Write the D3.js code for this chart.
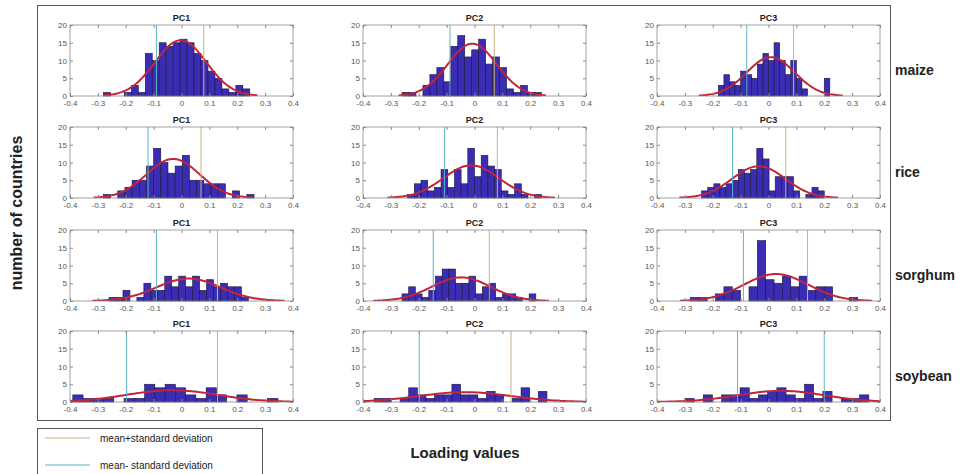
<!DOCTYPE html>
<html>
<head>
<meta charset="utf-8">
<script src="https://cdn.jsdelivr.net/npm/d3@7"></script>
<style>
body { margin: 0; background: #fff; }
text { font-family: "Liberation Sans", Arial, sans-serif; }
</style>
</head>
<body>
<svg id="chart" width="979" height="474"></svg>
<script>
// crops are rows, principal components are columns
const crops = ["maize", "rice", "sorghum", "soybean"];
const pcs = ["PC1", "PC2", "PC3"];
const xTicks = [-0.4, -0.3, -0.2, -0.1, 0, 0.1, 0.2, 0.3, 0.4];
const yTicks = [0, 5, 10, 15, 20];

// histogram counts per crop, one array per PC
const countsMaize = [
    [1,0,0,1,3,1,12,10,15,14,15,16,15,12,10,7,5,2,1,3,2],
    [1,1,0,3,6,8,4,14,17,11,13,16,9,11,8,2,1,3,1,1],
    [3,6,4,3,7,6,5,9,12,10,15,10,6,10,5,2,0,0,0,5]
];
const countsRice = [
    [1,0,2,3,5,5,9,14,10,7,9,12,5,5,4,4,4,0,2,0,1],
    [1,4,5,2,3,8,3,8,4,14,6,12,9,8,2,1,4,1,0,1],
    [2,3,4,3,4,5,8,7,8,14,11,2,6,6,6,2,0,1,3,2]
];
const countsSorghum = [
    [1,1,3,0,1,5,3,3,7,4,7,4,7,3,6,4,5,4,4,1],
    [2,4,2,1,3,7,9,9,5,5,7,2,4,5,1,2,2,1,0,2],
    [1,1,0,2,4,3,0,4,17,6,5,7,4,7,3,4,4,0,0,1]
];
const countsSoybean = [
    [2,1,1,1,0,1,1,5,4,5,4,2,1,4,2,0,2,0,0,1],
    [1,1,0,1,4,2,1,2,2,5,2,2,1,3,2,0,1,4,0,3],
    [1,0,2,0,2,2,4,1,2,3,4,2,1,5,1,3,0,1,1,2]
];
const counts = [countsMaize, countsRice, countsSorghum, countsSoybean];

// first and last bin edge of each histogram
const binStart = [
    [-0.28, -0.26, -0.18],
    [-0.28, -0.24, -0.24],
    [-0.26, -0.26, -0.28],
    [-0.39, -0.36, -0.30]
];
const binEnd = [
    [0.245, 0.24, 0.22],
    [0.26, 0.24, 0.20],
    [0.24, 0.22, 0.32],
    [0.346, 0.26, 0.36]
];

// fitted normal distribution
const fitMean = [
    [-0.003, -0.008, 0.008],
    [-0.03, -0.012, -0.035],
    [0.025, -0.048, 0.027],
    [-0.034, -0.034, 0.045]
];
const fitSd = [
    [0.092, 0.088, 0.086],
    [0.095, 0.1, 0.095],
    [0.115, 0.105, 0.115],
    [0.163, 0.165, 0.155]
];

// mean - sd and mean + sd
const sdLow = [
    [-0.09, -0.088, -0.078],
    [-0.12, -0.108, -0.129],
    [-0.09, -0.148, -0.09],
    [-0.197, -0.198, -0.111]
];
const sdHigh = [
    [0.08, 0.071, 0.09],
    [0.07, 0.082, 0.062],
    [0.129, 0.053, 0.14],
    [0.129, 0.131, 0.2]
];

const tealColor = "#5fb4c9";
const tanColor = "#cbb083";
const barColor = "#3a2db4";
const curveColor = "#c0263a";
const axisColor = "#8a8a8a";

const svg = d3.select("#chart");

// outer frame
svg.append("rect")
    .attr("x", 37.5).attr("y", 5.5)
    .attr("width", 853).attr("height", 415)
    .attr("fill", "none").attr("stroke", "#555").attr("stroke-width", 1);

const colLeft = [70, 363, 657];
const rowTop = [25, 127, 230, 331];
const pw = 223, ph = 71;

const x = d3.scaleLinear().domain([-0.4, 0.4]).range([0, pw]);
const y = d3.scaleLinear().domain([0, 20]).range([ph, 0]);
const fmt = d => d === 0 ? "0" : d.toFixed(1);

svg.append("defs").append("clipPath").attr("id", "plotclip")
    .append("rect").attr("width", pw).attr("height", ph);

crops.forEach((crop, r) => {
    pcs.forEach((pc, c) => {
        const g = svg.append("g")
            .attr("transform", `translate(${colLeft[c]},${rowTop[r]})`);

        g.append("rect").attr("width", pw).attr("height", ph).attr("fill", "#fff");

        const data = counts[r][c];
        const bw = (binEnd[r][c] - binStart[r][c]) / data.length;
        const bins = data.map((n, i) => ({ x0: binStart[r][c] + i * bw, x1: binStart[r][c] + (i + 1) * bw, n: n }));

        // bars
        g.append("g").selectAll("rect")
            .data(bins.filter(d => d.n > 0))
            .enter().append("rect")
            .attr("x", d => x(d.x0))
            .attr("y", d => y(d.n))
            .attr("width", d => x(d.x1) - x(d.x0))
            .attr("height", d => y(0) - y(d.n))
            .attr("fill", barColor)
            .attr("stroke", "#1a1440")
            .attr("stroke-width", 0.6);

        // normal fit, scaled like histfit
        const total = d3.sum(data);
        const mu = fitMean[r][c], sd = fitSd[r][c];
        const pts = d3.range(0, 101).map(i => {
            const v = mu - 3 * sd + i * 6 * sd / 100;
            const dens = Math.exp(-0.5 * ((v - mu) / sd) ** 2) / (sd * Math.sqrt(2 * Math.PI));
            return [v, total * bw * dens];
        });
        g.append("path")
            .datum(pts)
            .attr("clip-path", "url(#plotclip)")
            .attr("fill", "none")
            .attr("stroke", curveColor)
            .attr("stroke-width", 2)
            .attr("d", d3.line().x(d => x(d[0])).y(d => y(d[1])));

        // mean +/- sd lines
        const highColor = (crop === "soybean" && pc === "PC3") ? tealColor : tanColor;
        g.append("line")
            .attr("x1", x(sdLow[r][c])).attr("x2", x(sdLow[r][c]))
            .attr("y1", 0).attr("y2", ph)
            .attr("stroke", tealColor).attr("stroke-width", 1);
        g.append("line")
            .attr("x1", x(sdHigh[r][c])).attr("x2", x(sdHigh[r][c]))
            .attr("y1", 0).attr("y2", ph)
            .attr("stroke", highColor).attr("stroke-width", 1);

        // axes
        g.append("g").attr("transform", `translate(0,${ph})`)
            .call(d3.axisBottom(x).tickValues(xTicks).tickSize(-3).tickPadding(4.5).tickFormat(fmt));
        g.append("g").call(d3.axisTop(x).tickValues(xTicks).tickSize(-3).tickFormat(""));
        g.append("g")
            .call(d3.axisLeft(y).tickValues(yTicks).tickSize(-3).tickPadding(3));
        g.append("g").attr("transform", `translate(${pw},0)`)
            .call(d3.axisRight(y).tickValues(yTicks).tickSize(-3).tickFormat(""));

        g.selectAll(".domain").remove();
        g.selectAll(".tick line").attr("stroke", axisColor);
        g.selectAll(".tick text").attr("fill", "#555").attr("font-size", 8)
            .attr("font-family", "Liberation Sans, Arial, sans-serif");

        g.append("rect").attr("width", pw).attr("height", ph)
            .attr("fill", "none").attr("stroke", axisColor).attr("stroke-width", 0.8);

        g.append("text")
            .attr("x", pw / 2).attr("y", -4)
            .attr("text-anchor", "middle")
            .attr("font-size", 9).attr("font-weight", "bold")
            .attr("fill", "#222")
            .text(pc);
    });

    // crop label on the right
    svg.append("text")
        .attr("x", 895).attr("y", rowTop[r] + 50)
        .attr("font-size", 14).attr("font-weight", "bold")
        .attr("fill", "#222")
        .text(crop);
});

// axis titles
svg.append("text")
    .attr("transform", "translate(22,213) rotate(-90)")
    .attr("text-anchor", "middle")
    .attr("font-size", 16).attr("font-weight", "bold")
    .attr("fill", "#222")
    .text("number of countries");

svg.append("text")
    .attr("x", 465).attr("y", 458)
    .attr("text-anchor", "middle")
    .attr("font-size", 15).attr("font-weight", "bold")
    .attr("fill", "#222")
    .text("Loading values");

// legend
const legend = svg.append("g");
legend.append("rect")
    .attr("x", 37.5).attr("y", 428.5).attr("width", 225).attr("height", 50)
    .attr("fill", "#fff").attr("stroke", "#555");
const legendItems = [
    { label: "mean+standard deviation", color: tanColor },
    { label: "mean- standard deviation", color: tealColor }
];
legendItems.forEach((d, i) => {
    const ly = 438 + i * 27;
    legend.append("line")
        .attr("x1", 45).attr("x2", 90).attr("y1", ly).attr("y2", ly)
        .attr("stroke", d.color).attr("stroke-width", 1.2);
    legend.append("text")
        .attr("x", 100).attr("y", ly + 3.5)
        .attr("font-size", 10).attr("fill", "#222")
        .text(d.label);
});
</script>
</body>
</html>
